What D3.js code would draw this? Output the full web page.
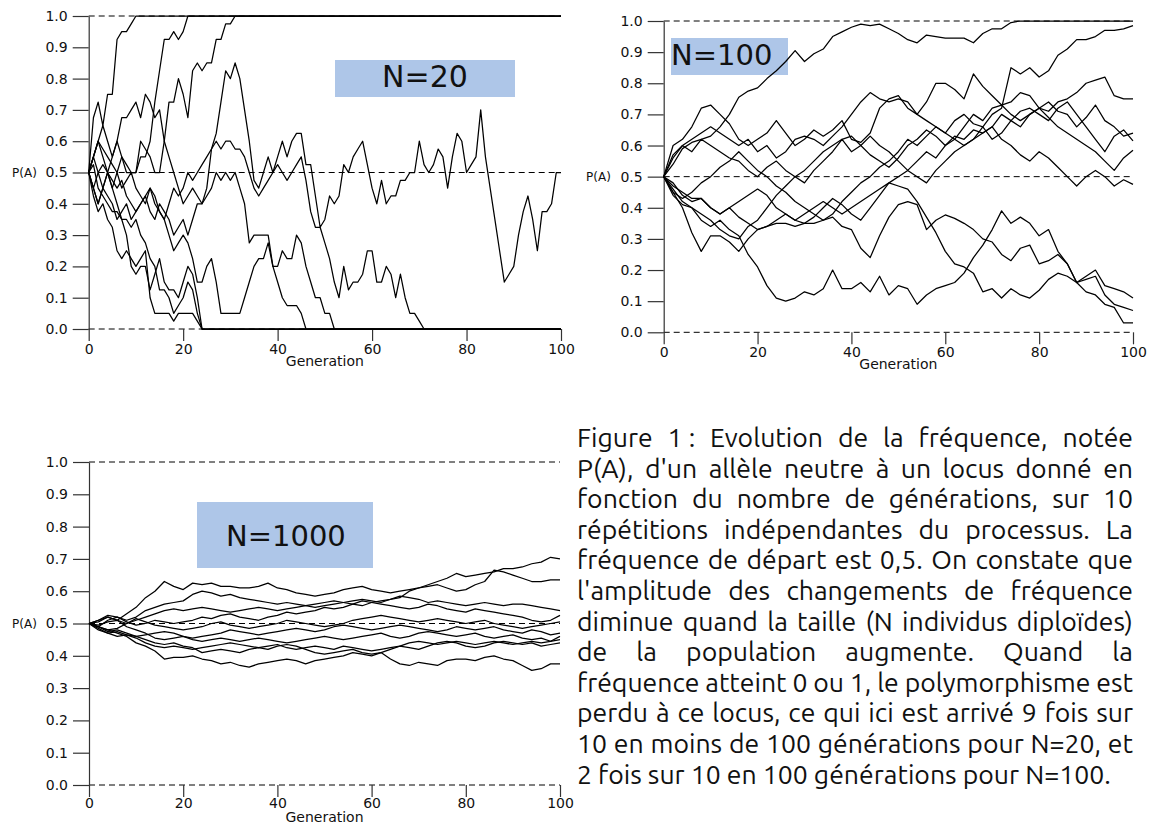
<!DOCTYPE html>
<html><head><meta charset="utf-8">
<script src="https://cdn.jsdelivr.net/npm/d3@7"></script>
<style>body{margin:0;background:#fff}svg{display:block}</style>
</head><body>
<svg id="c" width="1151" height="825"></svg>
<script>
// ---------- shared axis data ----------
const yTicks = [0,0.1,0.2,0.3,0.4,0.5,0.6,0.7,0.8,0.9,1.0];
const xTicks = [0,20,40,60,80,100];
const refLevels = [0,0.5,1];

// ---------- N=20 : one value per generation (until fixation) ----------
const n20_s1 = [0.5,0.675,0.725,0.65,0.75,0.75,0.925,0.95,0.95,0.975,1];
const n20_s2 = [0.5,0.55,0.6,0.55,0.5,0.45,0.5,0.55,0.525,0.5,0.5,0.55,0.55,0.6,0.725,0.825,0.925,0.925,0.95,0.925,0.95,1];
const n20_s3 = [0.5,0.45,0.4,0.45,0.5,0.55,0.6,0.55,0.5,0.5,0.5,0.6,0.575,0.55,0.5,0.5,0.6,0.725,0.725,0.8,0.75,0.675,0.825,0.85,0.825,0.85,0.85,0.925,0.925,0.975,0.975,1];
const n20_s4 = [0.5,0.425,0.375,0.4,0.35,0.325,0.25,0.225,0.25,0.225,0.2,0.225,0.25,0.1,0.05,0.05,0.05,0.05,0.025,0.05,0.05,0.05,0.05,0.025,0];
const n20_s5 = [0.5,0.525,0.45,0.425,0.4,0.375,0.375,0.35,0.35,0.325,0.35,0.3,0.275,0.225,0.2,0.125,0.125,0.1,0.05,0.075,0.1,0.15,0.125,0.05,0];
const n20_s6 = [0.5,0.45,0.5,0.525,0.5,0.475,0.45,0.475,0.425,0.4,0.375,0.4,0.425,0.45,0.4,0.375,0.35,0.3,0.25,0.275,0.3,0.275,0.225,0.15,0.15,0.2,0.225,0.15,0.05,0.05,0.05,0.05,0.05,0.1,0.15,0.2,0.225,0.225,0.275,0.2,0.15,0.1,0.075,0.075,0.075,0.05,0];
const n20_s7 = [0.5,0.55,0.6,0.65,0.6,0.55,0.6,0.675,0.675,0.7,0.725,0.675,0.75,0.725,0.675,0.7,0.6,0.55,0.5,0.45,0.4,0.425,0.45,0.425,0.4,0.425,0.45,0.5,0.475,0.5,0.475,0.5,0.45,0.4,0.275,0.3,0.3,0.3,0.3,0.2,0.2,0.25,0.225,0.225,0.3,0.275,0.2,0.15,0.1,0.1,0.05,0.05,0];
const n20_s8 = [0.5,0.55,0.6,0.575,0.55,0.525,0.5,0.45,0.475,0.5,0.45,0.425,0.4,0.45,0.425,0.375,0.35,0.4,0.45,0.425,0.45,0.5,0.475,0.5,0.525,0.55,0.575,0.6,0.575,0.6,0.6,0.575,0.575,0.55,0.5,0.45,0.425,0.45,0.475,0.5,0.525,0.5,0.475,0.5,0.525,0.55,0.475,0.375,0.325,0.325,0.275,0.225,0.15,0.1,0.2,0.125,0.15,0.15,0.175,0.25,0.25,0.15,0.15,0.2,0.175,0.1,0.175,0.1,0.05,0.05,0.025,0];
const n20_s9 = [0.5,0.55,0.5,0.45,0.5,0.45,0.4,0.35,0.3,0.2,0.175,0.2,0.2,0.125,0.175,0.225,0.15,0.125,0.125,0.1,0.15,0.2,0.175,0.1,0];
const n20_s10 = [0.5,0.45,0.4,0.45,0.425,0.4,0.35,0.375,0.4,0.35,0.375,0.4,0.425,0.375,0.35,0.4,0.375,0.35,0.3,0.325,0.35,0.3,0.35,0.4,0.4,0.45,0.575,0.625,0.725,0.825,0.8,0.85,0.8,0.7,0.6,0.475,0.45,0.5,0.55,0.5,0.55,0.6,0.55,0.6,0.625,0.625,0.525,0.525,0.425,0.325,0.35,0.425,0.4,0.425,0.525,0.5,0.55,0.575,0.6,0.525,0.45,0.4,0.475,0.4,0.425,0.425,0.475,0.475,0.5,0.5,0.6,0.525,0.5,0.525,0.575,0.55,0.45,0.55,0.625,0.6,0.5,0.525,0.55,0.7,0.55,0.45,0.35,0.25,0.15,0.175,0.2,0.3,0.375,0.425,0.35,0.25,0.375,0.375,0.4,0.5,0.5];

// ---------- N=100 : values every 2 generations ----------
const n100_s1 = [0.5,0.54,0.59,0.61,0.62,0.63,0.66,0.70,0.755,0.775,0.785,0.815,0.84,0.87,0.905,0.87,0.895,0.91,0.95,0.965,0.98,0.99,0.985,0.99,0.975,0.96,0.94,0.93,0.955,0.95,0.945,0.945,0.945,0.93,0.96,0.975,0.975,0.995,1];
const n100_s2 = [0.5,0.6,0.62,0.66,0.72,0.73,0.70,0.67,0.62,0.60,0.62,0.64,0.68,0.64,0.60,0.62,0.65,0.63,0.65,0.68,0.62,0.61,0.64,0.72,0.75,0.76,0.72,0.70,0.68,0.66,0.64,0.62,0.60,0.62,0.66,0.70,0.72,0.85,0.83,0.85,0.82,0.84,0.89,0.91,0.94,0.94,0.95,0.97,0.97,0.975,0.985];
const n100_s3 = [0.5,0.56,0.60,0.62,0.64,0.66,0.64,0.62,0.60,0.62,0.58,0.60,0.56,0.58,0.62,0.63,0.62,0.60,0.63,0.66,0.70,0.74,0.77,0.75,0.74,0.75,0.74,0.70,0.74,0.80,0.80,0.78,0.75,0.83,0.79,0.76,0.73,0.74,0.77,0.76,0.72,0.71,0.74,0.75,0.77,0.80,0.81,0.82,0.76,0.75,0.75];
const n100_s4 = [0.5,0.57,0.60,0.58,0.62,0.60,0.58,0.56,0.55,0.52,0.50,0.53,0.55,0.52,0.50,0.48,0.52,0.55,0.58,0.62,0.63,0.60,0.57,0.55,0.53,0.56,0.60,0.62,0.65,0.63,0.60,0.62,0.66,0.70,0.68,0.72,0.73,0.70,0.68,0.70,0.72,0.74,0.71,0.70,0.66,0.69,0.73,0.68,0.66,0.63,0.64];
const n100_s5 = [0.5,0.45,0.43,0.45,0.48,0.50,0.53,0.55,0.58,0.55,0.52,0.50,0.47,0.45,0.42,0.40,0.38,0.36,0.38,0.42,0.45,0.48,0.50,0.53,0.55,0.58,0.62,0.60,0.63,0.66,0.64,0.68,0.70,0.67,0.66,0.62,0.64,0.68,0.71,0.72,0.70,0.68,0.72,0.74,0.70,0.66,0.62,0.58,0.63,0.65,0.615];
const n100_s6 = [0.5,0.48,0.44,0.42,0.43,0.40,0.38,0.40,0.37,0.35,0.33,0.34,0.36,0.38,0.36,0.35,0.37,0.40,0.43,0.41,0.38,0.36,0.40,0.44,0.48,0.50,0.52,0.55,0.58,0.56,0.60,0.63,0.62,0.65,0.64,0.66,0.70,0.68,0.66,0.70,0.72,0.69,0.66,0.64,0.62,0.60,0.58,0.55,0.52,0.56,0.585];
const n100_s7 = [0.5,0.46,0.42,0.40,0.38,0.36,0.33,0.31,0.30,0.34,0.36,0.40,0.44,0.47,0.50,0.52,0.55,0.58,0.60,0.62,0.58,0.60,0.63,0.60,0.58,0.55,0.52,0.50,0.48,0.52,0.55,0.58,0.60,0.62,0.64,0.66,0.62,0.60,0.57,0.55,0.58,0.56,0.53,0.50,0.47,0.50,0.52,0.50,0.47,0.49,0.475];
const n100_s8 = [0.5,0.44,0.41,0.40,0.36,0.34,0.36,0.33,0.31,0.25,0.21,0.15,0.11,0.10,0.11,0.13,0.12,0.14,0.20,0.14,0.14,0.16,0.13,0.18,0.12,0.15,0.14,0.09,0.12,0.14,0.15,0.16,0.19,0.24,0.28,0.33,0.39,0.35,0.37,0.35,0.31,0.33,0.26,0.22,0.16,0.17,0.18,0.12,0.09,0.08,0.07];
const n100_s9 = [0.5,0.45,0.40,0.32,0.26,0.31,0.31,0.29,0.26,0.30,0.33,0.34,0.35,0.35,0.34,0.35,0.35,0.36,0.37,0.34,0.33,0.27,0.24,0.31,0.37,0.41,0.42,0.41,0.33,0.36,0.377,0.366,0.35,0.33,0.30,0.29,0.25,0.23,0.27,0.28,0.22,0.23,0.25,0.22,0.16,0.18,0.20,0.15,0.14,0.13,0.11];
const n100_s10 = [0.5,0.47,0.45,0.43,0.43,0.40,0.38,0.40,0.42,0.44,0.46,0.44,0.40,0.38,0.36,0.38,0.40,0.42,0.40,0.38,0.40,0.42,0.44,0.46,0.48,0.47,0.46,0.42,0.37,0.32,0.26,0.22,0.21,0.19,0.13,0.14,0.11,0.14,0.12,0.11,0.135,0.17,0.19,0.18,0.16,0.13,0.12,0.09,0.08,0.03,0.03];

// ---------- N=1000 : values every 2 generations ----------
const n1000_s1 = [0.5,0.51,0.52,0.51,0.53,0.55,0.58,0.60,0.63,0.615,0.605,0.625,0.62,0.625,0.615,0.615,0.61,0.61,0.615,0.625,0.61,0.605,0.595,0.59,0.585,0.59,0.595,0.605,0.61,0.615,0.605,0.60,0.595,0.60,0.605,0.61,0.62,0.63,0.64,0.655,0.645,0.65,0.655,0.66,0.67,0.67,0.675,0.685,0.69,0.705,0.70];
const n1000_s2 = [0.5,0.49,0.51,0.52,0.51,0.52,0.54,0.55,0.56,0.565,0.57,0.59,0.60,0.595,0.585,0.59,0.58,0.575,0.57,0.565,0.56,0.565,0.56,0.555,0.55,0.555,0.56,0.565,0.57,0.575,0.57,0.565,0.575,0.58,0.60,0.61,0.615,0.62,0.61,0.60,0.605,0.62,0.63,0.665,0.66,0.65,0.64,0.63,0.63,0.635,0.635];
const n1000_s3 = [0.5,0.505,0.52,0.51,0.50,0.51,0.52,0.53,0.54,0.545,0.54,0.545,0.55,0.545,0.54,0.535,0.54,0.545,0.55,0.545,0.54,0.545,0.55,0.555,0.56,0.565,0.57,0.565,0.56,0.555,0.565,0.57,0.575,0.585,0.58,0.575,0.565,0.57,0.565,0.56,0.555,0.56,0.565,0.56,0.555,0.56,0.56,0.555,0.55,0.545,0.54];
const n1000_s4 = [0.5,0.51,0.525,0.52,0.505,0.495,0.50,0.51,0.505,0.50,0.505,0.51,0.52,0.515,0.525,0.53,0.52,0.515,0.51,0.52,0.525,0.535,0.53,0.535,0.54,0.55,0.545,0.55,0.56,0.57,0.565,0.56,0.555,0.55,0.545,0.55,0.56,0.555,0.545,0.54,0.535,0.545,0.54,0.535,0.53,0.525,0.52,0.51,0.505,0.51,0.525];
const n1000_s5 = [0.5,0.49,0.48,0.485,0.50,0.515,0.505,0.495,0.49,0.485,0.48,0.485,0.49,0.50,0.505,0.495,0.49,0.485,0.49,0.495,0.50,0.51,0.505,0.50,0.495,0.49,0.495,0.50,0.51,0.515,0.52,0.525,0.52,0.515,0.51,0.505,0.51,0.515,0.51,0.505,0.50,0.505,0.51,0.50,0.495,0.49,0.485,0.49,0.495,0.50,0.505];
const n1000_s6 = [0.5,0.485,0.47,0.475,0.465,0.46,0.465,0.47,0.475,0.47,0.46,0.455,0.46,0.465,0.47,0.48,0.475,0.47,0.465,0.47,0.475,0.48,0.485,0.48,0.475,0.48,0.49,0.495,0.49,0.485,0.48,0.485,0.49,0.495,0.49,0.485,0.48,0.475,0.48,0.49,0.485,0.48,0.485,0.49,0.48,0.475,0.47,0.48,0.475,0.465,0.47];
const n1000_s7 = [0.5,0.495,0.505,0.51,0.49,0.48,0.47,0.455,0.45,0.455,0.46,0.45,0.445,0.45,0.455,0.45,0.445,0.45,0.455,0.45,0.445,0.44,0.445,0.45,0.455,0.46,0.455,0.45,0.455,0.46,0.465,0.47,0.46,0.455,0.46,0.47,0.475,0.47,0.465,0.46,0.465,0.47,0.46,0.455,0.46,0.465,0.455,0.45,0.455,0.445,0.46];
const n1000_s8 = [0.5,0.48,0.47,0.46,0.465,0.455,0.44,0.43,0.425,0.43,0.425,0.42,0.425,0.43,0.435,0.44,0.435,0.43,0.425,0.43,0.435,0.425,0.42,0.425,0.43,0.425,0.42,0.43,0.425,0.42,0.415,0.42,0.425,0.43,0.44,0.445,0.44,0.435,0.44,0.445,0.44,0.435,0.44,0.445,0.44,0.435,0.44,0.445,0.44,0.445,0.45];
const n1000_s9 = [0.5,0.49,0.475,0.48,0.47,0.46,0.45,0.44,0.435,0.44,0.43,0.425,0.41,0.415,0.42,0.415,0.41,0.42,0.425,0.42,0.43,0.435,0.43,0.42,0.41,0.405,0.41,0.415,0.42,0.41,0.405,0.41,0.42,0.43,0.425,0.42,0.43,0.44,0.445,0.44,0.43,0.425,0.43,0.44,0.445,0.44,0.435,0.44,0.43,0.435,0.44];
const n1000_s10 = [0.5,0.49,0.48,0.47,0.46,0.44,0.43,0.415,0.39,0.395,0.395,0.40,0.39,0.385,0.375,0.38,0.37,0.365,0.375,0.38,0.385,0.39,0.385,0.375,0.385,0.39,0.395,0.40,0.41,0.405,0.40,0.41,0.39,0.375,0.37,0.38,0.375,0.37,0.385,0.39,0.39,0.385,0.395,0.40,0.39,0.385,0.37,0.355,0.36,0.375,0.375];

const captionLines = [
  "Figure 1\u00A0:  Evolution de la fréquence, notée",
  "P(A), d'un allèle neutre à un locus donné en",
  "fonction du nombre de générations, sur 10",
  "répétitions indépendantes du processus. La",
  "fréquence de départ est 0,5. On constate que",
  "l'amplitude des changements de fréquence",
  "diminue quand la taille (N individus diploïdes)",
  "de la population augmente. Quand la",
  "fréquence atteint 0 ou 1, le polymorphisme est",
  "perdu à ce locus, ce qui ici est arrivé 9 fois sur",
  "10 en moins de 100 générations pour N=20, et",
  "2 fois sur 10 en 100 générations pour N=100."
];

// ---------- drawing ----------
const svg = d3.select('#c');
const AXFONT = "'DejaVu Sans', Verdana, sans-serif";

const panels = [
  {series:[n20_s1,n20_s2,n20_s3,n20_s4,n20_s5,n20_s6,n20_s7,n20_s8,n20_s9,n20_s10], step:1,
   x0:88.7, x1:561, yTop:16, yBot:329, pa:12, xlabPad:3, label:"N=20",
   box:{x:335,y:60,w:180,h:37}, lab:{x:425,y:87,anchor:'middle',size:30}},
  {series:[n100_s1,n100_s2,n100_s3,n100_s4,n100_s5,n100_s6,n100_s7,n100_s8,n100_s9,n100_s10], step:2,
   x0:663.7, x1:1133, yTop:21, yBot:332.3, pa:586, xlabPad:3, label:"N=100",
   box:{x:671,y:38,w:117,h:37}, lab:{x:671,y:65,anchor:'start',size:29}},
  {series:[n1000_s1,n1000_s2,n1000_s3,n1000_s4,n1000_s5,n1000_s6,n1000_s7,n1000_s8,n1000_s9,n1000_s10], step:2,
   x0:89, x1:560, yTop:462, yBot:785, pa:12, xlabPad:1, label:"N=1000",
   box:{x:197,y:502,w:176,h:66}, lab:{x:226,y:546,anchor:'start',size:29}}
];

panels.forEach(p => {
  const x = d3.scaleLinear().domain([0,100]).range([p.x0, p.x1]);
  const y = d3.scaleLinear().domain([0,1]).range([p.yBot, p.yTop]);
  const g = svg.append('g');

  g.append('rect').attr('x',p.box.x).attr('y',p.box.y).attr('width',p.box.w).attr('height',p.box.h)
    .attr('fill','#aec6e8');
  g.append('text').attr('x',p.lab.x).attr('y',p.lab.y).attr('text-anchor',p.lab.anchor)
    .attr('font-family',AXFONT).attr('font-size',p.lab.size).attr('fill','#111').text(p.label);

  g.selectAll('line.ref').data(refLevels).join('line').attr('class','ref')
    .attr('x1',x(0)).attr('x2',x(100)).attr('y1',d=>y(d)).attr('y2',d=>y(d))
    .attr('stroke','#000').attr('stroke-width',1).attr('stroke-dasharray','6,4');

  const ya = g.append('g').attr('transform',`translate(${x(0)},0)`)
    .call(d3.axisLeft(y).tickValues(yTicks).tickFormat(d3.format('.1f')).tickSize(16).tickSizeOuter(0).tickPadding(5));
  ya.select('.domain').attr('stroke','#333').attr('stroke-width',1.2);
  ya.selectAll('.tick line').attr('stroke','#333').attr('stroke-width',1.2);
  ya.selectAll('.tick text').attr('font-family',AXFONT).attr('font-size',14).attr('fill','#111');

  const xa = g.append('g').attr('transform',`translate(0,${y(0)})`)
    .call(d3.axisBottom(x).tickValues(xTicks).tickFormat(d3.format('d')).tickSize(12).tickSizeOuter(0).tickPadding(p.xlabPad));
  xa.select('.domain').remove();
  xa.selectAll('.tick line').attr('stroke','#333').attr('stroke-width',1.2);
  xa.selectAll('.tick text').attr('font-family',AXFONT).attr('font-size',14).attr('fill','#111');

  g.append('text').attr('x',(x(0)+x(100))/2).attr('y',y(0)+37).attr('text-anchor','middle')
    .attr('font-family',AXFONT).attr('font-size',14).attr('fill','#111').text('Generation');
  g.append('text').attr('x',p.pa).attr('y',y(0.5)+4.5)
    .attr('font-family',AXFONT).attr('font-size',12).attr('fill','#111').text('P(A)');

  const line = d3.line().x(d=>x(d[0])).y(d=>y(d[1]));
  const pts = p.series.map(arr => {
    const ps = arr.map((v,i)=>[i*p.step, v]);
    const last = ps[ps.length-1];
    if (last[0] < 100 && (last[1] === 0 || last[1] === 1)) ps.push([100, last[1]]); // fixed allele stays fixed
    return ps;
  });
  g.selectAll('path.s').data(pts).join('path').attr('class','s')
    .attr('d',line).attr('fill','none').attr('stroke','#000').attr('stroke-width',1.25)
    .attr('stroke-linejoin','round');
});

// ---------- caption (justified) ----------
const CAPFONT = "Ubuntu, 'Open Sans', 'Noto Sans', sans-serif";
const capLeft = 577, capRight = 1133, capTop = 447, capStep = 30.6;
const cap = svg.append('g').attr('font-family',CAPFONT).attr('fill','#111');
const probe = cap.append('text').attr('font-size',20).text(captionLines[captionLines.length-1]);
const w20 = probe.node().getComputedTextLength();
probe.remove();
const fs = Math.min(28, 20 * 534 / w20);
cap.attr('font-size',fs);
captionLines.forEach((ln, li) => {
  const yy = capTop + li*capStep;
  const last = li === captionLines.length-1;
  const words = ln.split(/ +/);
  const t = cap.append('text').attr('y',yy);
  if (last) { t.attr('x',capLeft).text(ln); return; }
  const widths = words.map(w => {
    const tmp = cap.append('text').text(w);
    const ww = tmp.node().getComputedTextLength(); tmp.remove(); return ww;
  });
  const gap = (capRight - capLeft - d3.sum(widths)) / (words.length-1);
  let cx = capLeft;
  words.forEach((w,i) => {
    t.append('tspan').attr('x',cx).text(w);
    cx += widths[i] + gap;
  });
});
</script>
</body></html>
